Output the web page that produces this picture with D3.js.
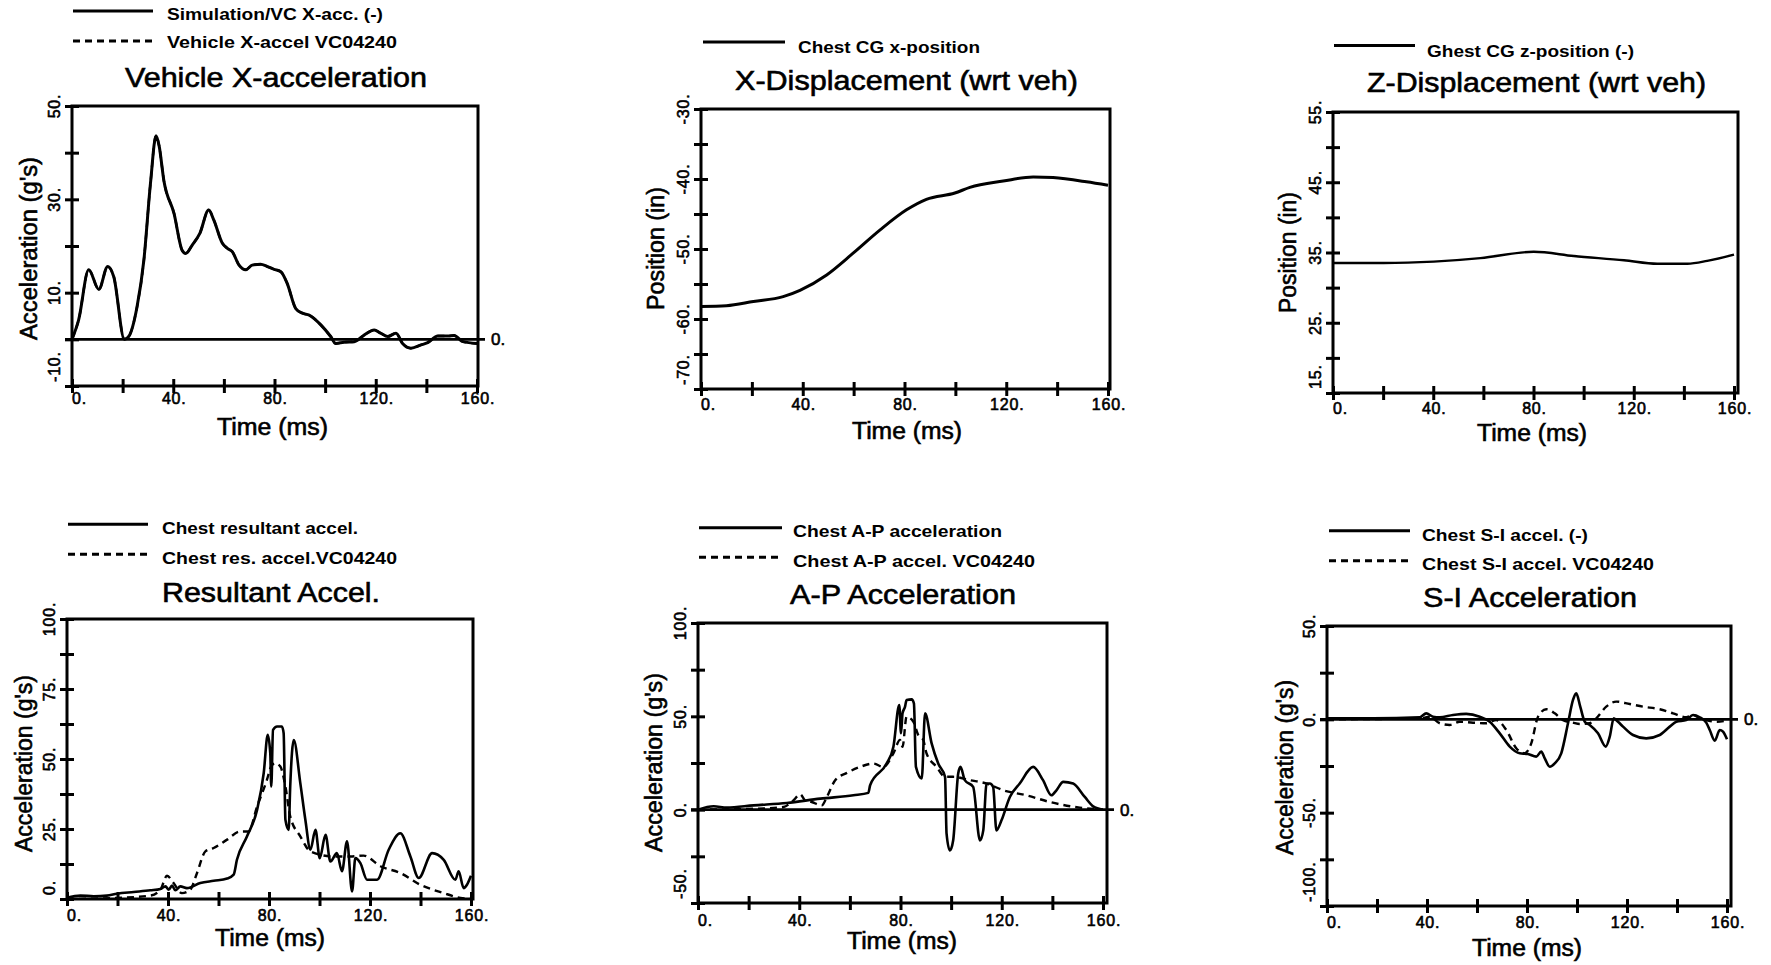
<!DOCTYPE html>
<html><head><meta charset="utf-8">
<script src="https://cdn.jsdelivr.net/npm/d3@7/dist/d3.min.js"></script>
<style>
html,body{margin:0;padding:0;background:#fff;}
svg{display:block;}
text{font-family:"Liberation Sans",Arial,Helvetica,sans-serif;fill:#000;}
</style></head><body>
<svg id="chart" width="1771" height="965"></svg>
<script>
// ---------- shared time axis ----------
const timeTicks = [0, 20, 40, 60, 80, 100, 120, 140, 160];
const timeLabels = [0, 40, 80, 120, 160];

// ---------- Panel 1: Vehicle X-acceleration ----------
const vxaTime = [0,2.6,6.6,10.6,14.1,16.5,20.7,22.4,25.7,28.4,31,33.2,34.4,36.3,40.3,43.5,44.9,47.5,50.5,54,56,59.4,61.4,63.3,66,68.6,71.2,74.5,77.2,79.8,82.5,85,88.4,91,93.7,98.3,102.2,104.2,107.5,111.5,115.4,119.4,122,124.7,128,130.6,133.9,137.9,140.5,144.5,148.4,151,154.4,160];
const vxaSim  = [0,4.1,14.9,10.7,15.6,13.4,0,0.6,7,17,33.4,43.6,41.5,34,27,19.1,18.4,20.2,22.7,27.7,25.6,20.6,19.5,18.8,15.9,14.9,15.9,16.1,15.6,15,14.5,12,6.6,5.6,5.2,3.1,0.6,-0.9,-0.6,-0.5,0.9,2,1.3,0.6,1.3,-0.9,-1.9,-1.2,-0.7,0.7,0.7,0.8,-0.5,-0.9];
const p1YTicks  = [-10, 0, 10, 20, 30, 40, 50];
const p1YLabels = [50, 30, 10, -10];

// ---------- Panel 2: X-Displacement ----------
const xdTime = [0,10,20.6,32.3,38.9,49.4,59.8,70.3,80.8,88.6,99.8,105.7,118.8,130.6,138.4,151.5,160];
const xdPos  = [-58.2,-58.1,-57.5,-56.8,-55.9,-53.7,-50.6,-47.3,-44.4,-42.9,-42,-41.2,-40.3,-39.7,-39.8,-40.4,-40.9];
const p2YTicks  = [-70, -65, -60, -55, -50, -45, -40, -35, -30];
const p2YLabels = [-30, -40, -50, -60, -70];

// ---------- Panel 3: Z-Displacement ----------
const zdTime = [0,20.2,40.2,58.8,80.1,96.1,116.1,129.4,141.4,149.3,160];
const zdPos  = [33.5,33.5,33.7,34.2,35.1,34.5,33.9,33.4,33.4,33.8,34.7];
const p3YTicks  = [15, 20, 25, 30, 35, 40, 45, 50, 55];
const p3YLabels = [55, 45, 35, 25, 15];

// ---------- Panel 4: Resultant Accel. ----------
const resSimTime = [0,5.3,10.6,15.8,19.8,26.4,33,37,39,40.3,41.6,42.9,44.9,47.5,52.8,58.1,63.4,66,67.3,71.3,75.3,77.9,79.5,80.5,80.9,81.6,83.2,85.1,85.8,86.5,87.8,88.4,89.8,92.4,94.4,96.4,98.4,100.1,102.4,104.3,106.9,108.9,110.9,112.9,114.2,116.2,118.8,122.8,127.4,132,136,139.3,144.6,149.2,153.8,155.1,157.1,158.4,160];
const resSim     = [0.4,1.2,1,1.2,1.9,2.5,3.1,3.6,4.5,3.3,4.8,3.1,4.5,3.9,5.7,6.5,7.3,8.7,14,22.4,31.9,44.9,58.6,52.1,40.2,60.4,61.6,61.6,59.2,28.3,24.7,40.2,56.8,41.4,28.3,17.6,24.7,14.6,22.9,13.4,16.4,9.9,20.6,2.7,14.6,12.8,6.9,6.9,17.6,23.5,15.2,7.5,16.4,14,6.9,9.9,3.9,5.1,8.3];
const resTestTime = [0,19.8,33,37,39.6,42.2,45.5,48.8,51.5,54.8,58.1,63.4,68.6,71.9,75.3,79.2,80.8,82.5,84.5,86.5,88.4,92.4,96.4,105.6,112.2,117.5,124.1,132,139.9,149.2,155.8,160];
const resTest     = [0,0.4,1.2,3.3,8.3,5.7,2.1,3.3,9.3,17,18.2,21.2,24.1,24.1,33.1,42.6,47.3,48.5,47.3,40.2,29.5,22.4,17,15.2,15.2,15.5,11.7,9.3,5.1,2.1,0.4,0];
const p4YTicks  = [0, 12.5, 25, 37.5, 50, 62.5, 75, 87.5, 100];
const p4YLabels = [100, 75, 50, 25, 0];

// ---------- Panel 5: A-P Acceleration ----------
const apSimTime = [0,6.2,11.4,22,35.1,48.3,61.4,67.3,68,74.5,77.2,79.5,80.2,80.8,81.8,82.4,84.4,85.3,86.1,88.4,89.7,92.3,94.9,97.6,98.2,99.5,100.8,102.8,103.7,105.4,108.7,111.4,112.7,114,115.3,116.6,117.9,119.9,123.2,127.1,132.4,136.3,139.6,141.6,144.3,148.2,152.8,156.1,160];
const apSim     = [0,1.8,1.1,2.3,3.6,5.9,7.7,9,13.1,24.7,33.7,56.1,40.9,51.6,55.2,58.8,59.1,57,22.9,16.7,51.6,35.5,24.7,17.6,-12.9,-21.9,-16.5,19.4,22.9,15.8,12.2,-16.5,-11.1,14,14,12.2,-11.1,-5.7,6.8,14,22.9,15.8,7.7,10.4,14.9,14,6.8,1.8,0];
const apTestTime = [0,22,33.8,37.7,40.4,42.3,44.9,48.9,50.9,54.2,58.8,64,69.3,73.2,77.2,79.8,80.8,82.4,85.1,87,89,90.3,94.3,97.6,100.8,107.4,114,120.6,129.8,139,150.8,160];
const apTest     = [0,0.5,1.4,5,8.2,5,4.1,2.3,6.8,15.8,19.7,22.9,24.7,22.9,30.1,37.3,33.7,49.8,47.1,40,37.3,30.1,22.9,17.6,17.6,15.8,14,10.4,7.7,4.1,1.1,0];
const p5YTicks  = [-50, -25, 0, 25, 50, 75, 100];
const p5YLabels = [100, 50, 0, -50];

// ---------- Panel 6: S-I Acceleration ----------
const siSimTime = [0,18.4,37.1,39.7,42.4,45.1,50.4,55.7,61.1,65.1,69.1,73.1,77.1,80.4,83.7,85.7,87.1,89.1,91.1,93.7,96.4,98.4,99.7,101.3,103.1,105.1,108.4,111.5,113.1,114.7,116.4,118.4,122.4,127.7,133.1,137.1,139.7,143.7,146.4,149.1,151.7,153.1,155.1,157.1,158.4,160];
const siSim     = [0.5,0.5,1.1,3.2,1.4,1.1,2.3,2.9,1.4,-1.3,-7.5,-14.6,-18.2,-18.6,-20,-17.3,-20.9,-25.4,-23.6,-18.2,-2.1,10.4,13.9,6.8,-1.3,-3,-7.5,-14.6,-9.3,0.5,-1.3,-3.9,-8.4,-10.2,-8.4,-3.9,-1.3,-0.4,2.3,1.1,-1.8,-5.7,-11.4,-5.7,-6.6,-10.7];
const siTestTime = [0,37.1,41.1,45.1,49.1,53.1,58.4,63.7,67.7,71.7,75.7,79.1,81.7,84.4,87.7,91.1,94.4,98.4,101.1,105.1,107.7,111.7,115.7,121.1,126.4,133.1,138.4,143.7,146.4,149.1,151.7,155.7,160];
const siTest     = [0,0.5,1.4,-2.1,-3,-1.3,-1.8,-2.1,-0.4,-5.7,-15.5,-18.2,-12.9,1.4,5.4,3.2,-0.4,-1.8,-2.5,-2.1,0.5,6.8,9.5,8.2,6.8,5.4,3.2,1.1,2.3,0.5,-0.4,-1.3,-0.7];
const p6YTicks  = [-100, -75, -50, -25, 0, 25, 50];
const p6YLabels = [50, 0, -50, -100];

// ---------- text ----------
const titles = ["Vehicle X-acceleration", "X-Displacement (wrt veh)", "Z-Displacement (wrt veh)",
                "Resultant Accel.", "A-P Acceleration", "S-I Acceleration"];
const yTitles = ["Acceleration (g's)", "Position (in)", "Position (in)",
                 "Acceleration (g's)", "Acceleration (g's)", "Acceleration (g's)"];
const xTitle = "Time (ms)";
const legendNames = [
  ["Simulation/VC X-acc. (-)", "Vehicle X-accel VC04240"],
  ["Chest CG x-position"],
  ["Ghest CG z-position (-)"],
  ["Chest resultant accel.", "Chest res. accel.VC04240"],
  ["Chest A-P acceleration", "Chest A-P accel. VC04240"],
  ["Chest S-I accel. (-)", "Chest S-I accel. VC04240"]
];

// ---------- panel definitions (data references) ----------
const panelData = [
  {yDomain: [-10, 50],  yTicks: p1YTicks, yLabels: p1YLabels, zero: true,
   series: [{t: vxaTime, v: vxaSim, dash: false}, {t: vxaTime, v: vxaSim, dash: true}]},
  {yDomain: [-70, -30], yTicks: p2YTicks, yLabels: p2YLabels, zero: false,
   series: [{t: xdTime, v: xdPos, dash: false}]},
  {yDomain: [15, 55],   yTicks: p3YTicks, yLabels: p3YLabels, zero: false,
   series: [{t: zdTime, v: zdPos, dash: false}]},
  {yDomain: [0, 100],   yTicks: p4YTicks, yLabels: p4YLabels, zero: false,
   series: [{t: resTestTime, v: resTest, dash: true}, {t: resSimTime, v: resSim, dash: false}]},
  {yDomain: [-50, 100], yTicks: p5YTicks, yLabels: p5YLabels, zero: true,
   series: [{t: apTestTime, v: apTest, dash: true}, {t: apSimTime, v: apSim, dash: false}]},
  {yDomain: [-100, 50], yTicks: p6YTicks, yLabels: p6YLabels, zero: true,
   series: [{t: siTestTime, v: siTest, dash: true}, {t: siSimTime, v: siSim, dash: false}]}
];

// ---------- layout (pixel geometry, separate from data) ----------
const layout = [
  {x0: 72, x1: 477, top: 106, bottom: 386, right: 478, lw: 3,
   title: [125, 427, 87], leg: {lx: [73, 153], ly: [11, 41], tx: 167, tend: [383, 397], ty: [20, 48]},
   xt: [217, 328, 435], yt: [37, 157, 340], xlab: 18},
  {x0: 701, x1: 1108, top: 109, bottom: 389, right: 1110, lw: 3,
   title: [735, 1078, 90], leg: {lx: [703, 785], ly: [42], tx: 798, tend: [980], ty: [52.5]},
   xt: [852, 962, 439], yt: [664, 187, 310], xlab: 21},
  {x0: 1333, x1: 1734, top: 112, bottom: 393, right: 1738, lw: 2.4,
   title: [1367, 1706, 92], leg: {lx: [1334, 1415], ly: [45.5], tx: 1427, tend: [1634], ty: [56.5]},
   xt: [1477, 1587, 441], yt: [1296, 192, 313], xlab: 21},
  {x0: 67, x1: 471, top: 619, bottom: 899, right: 473, lw: 2.6,
   title: [162, 380, 601.5], leg: {lx: [68, 148], ly: [524.3, 554.3], tx: 162, tend: [358, 397], ty: [534.3, 564]},
   xt: [215, 325, 946], yt: [32, 675, 852], xlab: 22},
  {x0: 698, x1: 1103, top: 623, bottom: 903, right: 1107, lw: 2.6,
   title: [790, 1016, 604], leg: {lx: [699, 782], ly: [527.7, 557.3], tx: 793, tend: [1002, 1035], ty: [536.7, 566.7]},
   xt: [847, 957, 949], yt: [662, 673, 852], xlab: 23},
  {x0: 1327, x1: 1727, top: 626, bottom: 906, right: 1731, lw: 2.6,
   title: [1423, 1637, 607], leg: {lx: [1329, 1410], ly: [530.7, 560.7], tx: 1422, tend: [1588, 1654], ty: [540.7, 570]},
   xt: [1472, 1582, 956], yt: [1293, 680, 855], xlab: 22}
];

const fmt = d => d + ".";
const svg = d3.select("#chart");
const DASH = "7,5";
const heavy = sel => sel.attr("stroke", "#000").attr("stroke-width", 0.6);

panelData.forEach((pd, i) => {
  const L = layout[i];
  const g = svg.append("g");
  const x = d3.scaleLinear().domain([0, 160]).range([L.x0, L.x1]);
  const y = d3.scaleLinear().domain(pd.yDomain).range([L.bottom, L.top]);

  // frame
  g.append("rect").attr("x", L.x0).attr("y", L.top)
    .attr("width", L.right - L.x0).attr("height", L.bottom - L.top)
    .attr("fill", "none").attr("stroke", "#000").attr("stroke-width", 3);

  // x ticks (crossing the axis)
  g.append("g").attr("transform", `translate(0,${L.bottom})`)
    .call(d3.axisBottom(x).tickValues(timeTicks).tickFormat("").tickSizeOuter(0))
    .call(a => a.select(".domain").remove())
    .call(a => a.selectAll(".tick line").attr("y1", -7).attr("y2", 7)
      .attr("stroke", "#000").attr("stroke-width", 3));

  // y ticks (crossing the axis)
  g.append("g").attr("transform", `translate(${L.x0},0)`)
    .call(d3.axisLeft(y).tickValues(pd.yTicks).tickFormat("").tickSizeOuter(0))
    .call(a => a.select(".domain").remove())
    .call(a => a.selectAll(".tick line").attr("x1", -7).attr("x2", 7)
      .attr("stroke", "#000").attr("stroke-width", 3));

  // x tick labels
  g.selectAll(".xl").data(timeLabels).join("text")
    .attr("x", d => d === 0 ? x(d) : x(d) + 1)
    .attr("y", L.bottom + L.xlab)
    .attr("text-anchor", d => d === 0 ? "start" : "middle")
    .attr("font-size", 16).attr("letter-spacing", 0.8)
    .call(heavy)
    .text(fmt);

  // y tick labels (rotated)
  const lowest = d3.min(pd.yLabels);
  g.selectAll(".yl").data(pd.yLabels).join("text")
    .attr("transform", d => d === lowest
      ? `translate(${L.x0 - 12},${L.bottom - 4}) rotate(-90)`
      : `translate(${L.x0 - 12},${y(d)}) rotate(-90)`)
    .attr("text-anchor", d => d === lowest ? "start" : "middle")
    .attr("font-size", 16).attr("letter-spacing", 0.8)
    .call(heavy)
    .text(fmt);

  // zero line with right label
  if (pd.zero) {
    g.append("line").attr("x1", L.x0 - 7).attr("x2", L.right + 7)
      .attr("y1", y(0)).attr("y2", y(0))
      .attr("stroke", "#000").attr("stroke-width", 2.6);
    g.append("text").attr("x", L.right + 13).attr("y", y(0) + 6)
      .attr("font-size", 17).call(heavy).text(fmt(0));
  }

  // series
  const line = d3.line().curve(d3.curveMonotoneX);
  pd.series.forEach(s => {
    const pts = s.t.map((t, k) => [x(t), y(s.v[k])]);
    g.append("path").attr("d", line(pts))
      .attr("fill", "none").attr("stroke", "#000")
      .attr("stroke-width", s.dash ? 2.4 : L.lw)
      .attr("stroke-linejoin", "round")
      .attr("stroke-dasharray", s.dash ? DASH : null);
  });

  // title
  g.append("text").attr("x", L.title[0]).attr("y", L.title[2])
    .attr("font-size", 27).call(heavy)
    .attr("textLength", L.title[1] - L.title[0]).attr("lengthAdjust", "spacingAndGlyphs")
    .text(titles[i]);

  // legend
  legendNames[i].forEach((name, k) => {
    g.append("line").attr("x1", L.leg.lx[0]).attr("x2", L.leg.lx[1])
      .attr("y1", L.leg.ly[k]).attr("y2", L.leg.ly[k])
      .attr("stroke", "#000").attr("stroke-width", 3)
      .attr("stroke-dasharray", k === 1 ? DASH : null);
    g.append("text").attr("x", L.leg.tx).attr("y", L.leg.ty[k])
      .attr("font-size", 17).attr("font-weight", "bold")
      .attr("textLength", L.leg.tend[k] - L.leg.tx).attr("lengthAdjust", "spacingAndGlyphs")
      .text(name);
  });

  // axis titles
  g.append("text").attr("x", L.xt[0]).attr("y", L.xt[2])
    .attr("font-size", 23).call(heavy)
    .attr("textLength", L.xt[1] - L.xt[0]).attr("lengthAdjust", "spacingAndGlyphs")
    .text(xTitle);
  g.append("text")
    .attr("transform", `translate(${L.yt[0]},${(L.yt[1] + L.yt[2]) / 2}) rotate(-90)`)
    .attr("text-anchor", "middle").attr("font-size", 23).call(heavy)
    .attr("textLength", L.yt[2] - L.yt[1]).attr("lengthAdjust", "spacingAndGlyphs")
    .text(yTitles[i]);
});
</script>
</body></html>
